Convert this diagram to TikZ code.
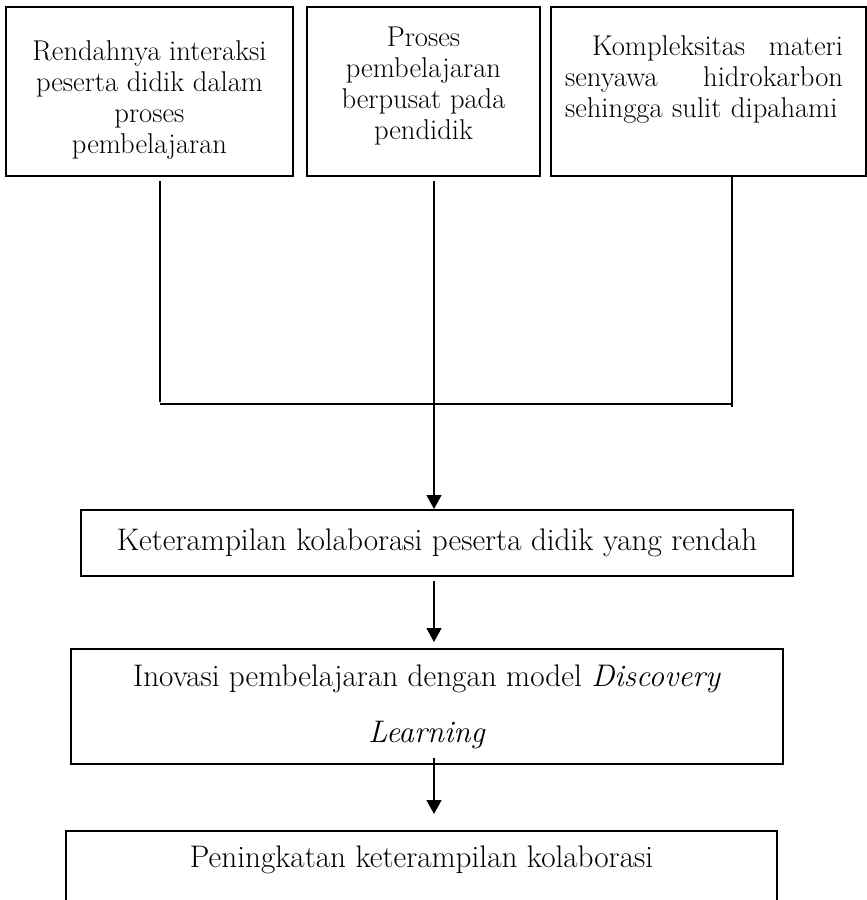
\documentclass[tikz,border=0pt]{standalone}
\usepackage{fontspec}
\usepackage{tikz}
\usetikzlibrary{arrows.meta}
\usetikzlibrary{positioning}

\begin{document}
\begin{tikzpicture}[x=1pt, y=-1pt, >={Triangle[width=15pt,length=14pt]},
  box/.style={draw, line width=2pt, inner sep=0pt},
  small/.style={font=\fontsize{28.6}{31}\selectfont, align=center, inner sep=0pt},
  big/.style={font=\fontsize{31.2}{34}\selectfont, align=center, inner sep=0pt},
  link/.style={line width=1.5pt}]

\useasboundingbox (0,0) rectangle (867,900);
\clip (0,0) rectangle (867,900);

\foreach \n/\x/\w in {1/149.5/287, 2/423.5/233, 3/708.5/315}
  \node [box, minimum width=\w pt, minimum height=169pt] (cause\n) at (\x,91.5) {};

\node [small] (cause1-text) at (149.5,100)
  {Rendahnya interaksi\\peserta didik dalam\\proses\\pembelajaran};
\node [small] (cause2-text) at (423.5,86)
  {Proses\\pembelajaran\\berpusat pada\\pendidik};
\node [small, text width=278pt, align=left] (cause3-text) at (704,79)
  {\hspace*{27pt}Kompleksitas\hfill materi\\senyawa\hfill hidrokarbon\\sehingga sulit dipahami};

\node [box, big, minimum width=712pt, minimum height=66pt] (problem) at (437,543)
  {Keterampilan kolaborasi peserta didik yang rendah};
\node [box, big, minimum width=712pt, minimum height=115pt] (idea) at (427,706.5)
  {Inovasi pembelajaran dengan model \textit{Discovery}\\[22pt]\textit{Learning}};
\node [box, minimum width=711pt, minimum height=129pt] (gain) at (421.5,895.5) {};
\node [big] (gain-text) at (421.5,860) {Peningkatan keterampilan kolaborasi};

\coordinate (bus-w) at (160,404);
\coordinate (bus-c) at (434,404);
\coordinate (bus-e) at (732,404);

\draw [link] ([yshift=-4pt]cause1.south -| bus-w) -- ([yshift=2pt]bus-w);
\draw [link] (cause3.south -| bus-e) -- ([yshift=-3pt]bus-e);
\draw [link] (bus-w) -- (bus-e);

\draw [link, ->] ([yshift=-4pt]cause2.south -| bus-c) -- (problem.north -| bus-c);
\draw [link, ->] ([yshift=-4pt]problem.south -| bus-c) -- ([yshift=6pt]idea.north -| bus-c);
\draw [link, ->] ([yshift=7pt]idea.south -| bus-c) -- ([yshift=16pt]gain.north -| bus-c);

\end{tikzpicture}
\end{document}
